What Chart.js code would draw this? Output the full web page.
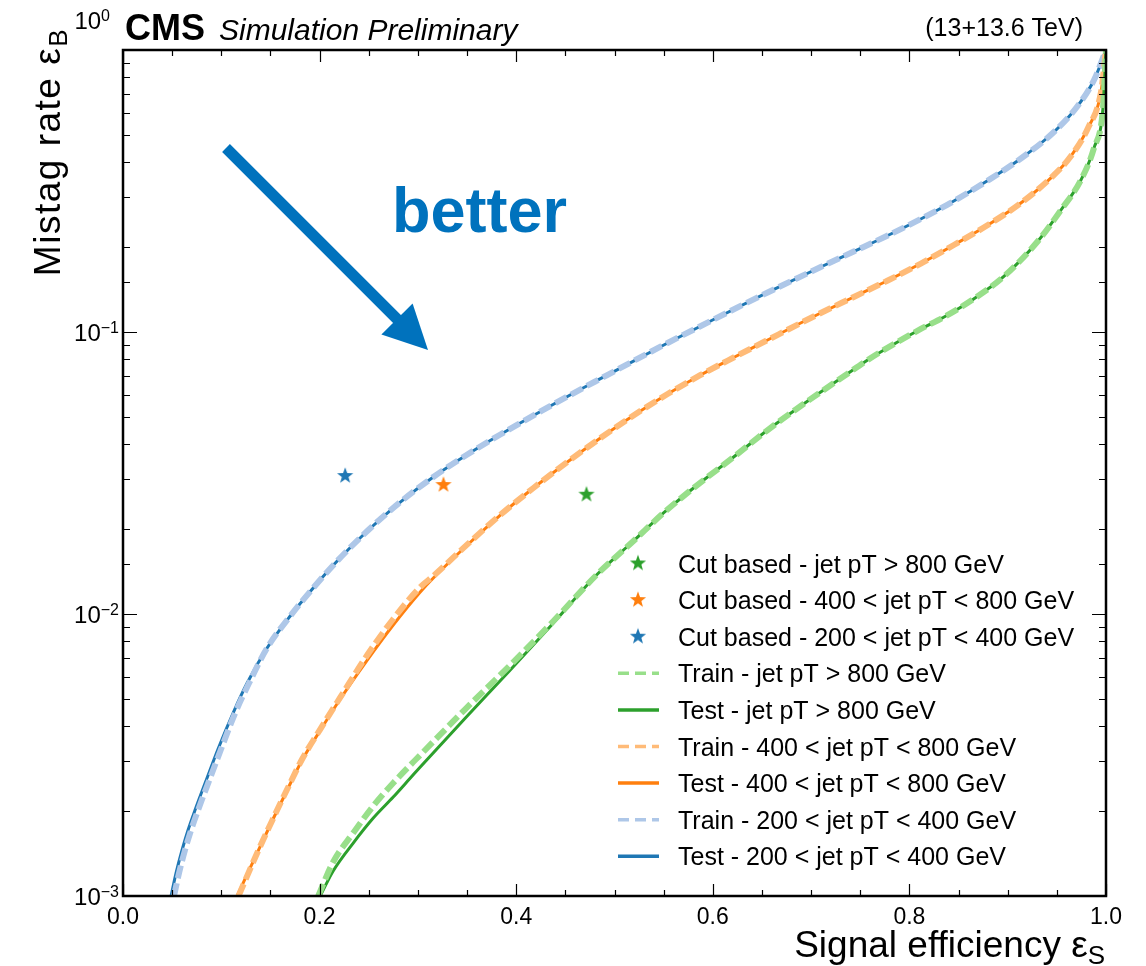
<!DOCTYPE html>
<html>
<head>
<meta charset="utf-8">
<script src="https://cdn.jsdelivr.net/npm/chart.js@4.4.1/dist/chart.umd.min.js"></script>
<style>
    html, body { margin: 0; padding: 0; background: #fff; }
    #wrap { width: 1146px; height: 966px; }
</style>
</head>
<body>
<div id="wrap"><canvas id="rocChart" width="1146" height="966"></canvas></div>
<script>
// ---- data ----
// jet pT > 800 GeV
const effTest800  = [0.2006, 0.2138, 0.2342, 0.2546, 0.2749, 0.2923, 0.3024, 0.3483, 0.3921, 0.4379, 0.4827, 0.5193, 0.5499, 0.5804, 0.6212, 0.6558, 0.6894, 0.7098, 0.7352, 0.7607, 0.7862, 0.8116, 0.8371, 0.8625, 0.8961, 0.9308, 0.9542, 0.9745, 0.9878, 0.9969, 1.0];
const rateTest800 = [0.0010, 0.001227, 0.001541, 0.001890, 0.002244, 0.002620, 0.002867, 0.004277, 0.006228, 0.009292, 0.01386, 0.01815, 0.02282, 0.02798, 0.03603, 0.04492, 0.05463, 0.06125, 0.07041, 0.08087, 0.09142, 0.1025, 0.1139, 0.1290, 0.1575, 0.2102, 0.2708, 0.3459, 0.4494, 0.6225, 1.0];
const effTrain800  = [0.1986, 0.2138, 0.2342, 0.2546, 0.2749, 0.2923, 0.3024, 0.3483, 0.3921, 0.4379, 0.4827, 0.5193, 0.5499, 0.5804, 0.6212, 0.6558, 0.6894, 0.7098, 0.7352, 0.7607, 0.7862, 0.8116, 0.8371, 0.8625, 0.8961, 0.9308, 0.9542, 0.9745, 0.9878, 0.9969, 1.0];
const rateTrain800 = [0.0010, 0.001320, 0.001673, 0.002085, 0.002516, 0.002914, 0.003162, 0.004602, 0.006490, 0.009445, 0.01386, 0.01815, 0.02282, 0.02798, 0.03603, 0.04492, 0.05463, 0.06125, 0.07041, 0.08087, 0.09142, 0.1025, 0.1139, 0.1290, 0.1575, 0.2102, 0.2708, 0.3459, 0.4494, 0.6225, 1.0];

// 400 < jet pT < 800 GeV
const effTest400  = [0.1161, 0.1365, 0.1517, 0.1670, 0.1823, 0.2006, 0.2210, 0.2485, 0.2749, 0.3024, 0.3157, 0.3503, 0.3839, 0.4175, 0.4521, 0.4857, 0.5193, 0.5540, 0.5876, 0.6212, 0.6558, 0.6894, 0.7098, 0.7434, 0.7780, 0.8116, 0.8452, 0.8798, 0.9134, 0.9470, 0.9644, 0.9817, 0.9949, 1.0];
const rateTest400 = [0.0010, 0.001421, 0.001845, 0.002376, 0.003036, 0.003863, 0.004995, 0.006868, 0.009141, 0.01197, 0.01342, 0.01757, 0.02244, 0.02798, 0.03460, 0.04208, 0.05057, 0.06026, 0.07041, 0.08121, 0.09367, 0.1076, 0.1168, 0.1331, 0.1523, 0.1749, 0.2035, 0.2395, 0.2867, 0.3602, 0.4207, 0.5290, 0.7098, 1.0];
const effTrain400  = [0.1175, 0.1365, 0.1517, 0.1670, 0.1823, 0.2006, 0.2210, 0.2485, 0.2749, 0.3024, 0.3157, 0.3503, 0.3839, 0.4175, 0.4521, 0.4857, 0.5193, 0.5540, 0.5876, 0.6212, 0.6558, 0.6894, 0.7098, 0.7434, 0.7780, 0.8116, 0.8452, 0.8798, 0.9134, 0.9470, 0.9644, 0.9817, 0.9949, 1.0];
const rateTrain400 = [0.0010, 0.001421, 0.001850, 0.002390, 0.003060, 0.003900, 0.005060, 0.007155, 0.009600, 0.01246, 0.01364, 0.01765, 0.02248, 0.02798, 0.03460, 0.04208, 0.05057, 0.06026, 0.07041, 0.08121, 0.09367, 0.1076, 0.1168, 0.1331, 0.1523, 0.1749, 0.2035, 0.2395, 0.2867, 0.3602, 0.4207, 0.5290, 0.7098, 1.0];

// 200 < jet pT < 400 GeV
const effTest200  = [0.0489, 0.0540, 0.0601, 0.0662, 0.0733, 0.0855, 0.0967, 0.1120, 0.1263, 0.1466, 0.1701, 0.1935, 0.2179, 0.2485, 0.2821, 0.3157, 0.3503, 0.3839, 0.4521, 0.4857, 0.5540, 0.5998, 0.6558, 0.7098, 0.7434, 0.7780, 0.8116, 0.8452, 0.8798, 0.9134, 0.9470, 0.9715, 0.9878, 1.0];
const rateTest200 = [0.0010, 0.001207, 0.001456, 0.001714, 0.002018, 0.002620, 0.003321, 0.004455, 0.005692, 0.007575, 0.009837, 0.01237, 0.01541, 0.01969, 0.02494, 0.03061, 0.03678, 0.04330, 0.05905, 0.06831, 0.09142, 0.1103, 0.1381, 0.1700, 0.1929, 0.2199, 0.2516, 0.2914, 0.3445, 0.4123, 0.5119, 0.6355, 0.7826, 1.0];
const effTrain200  = [0.0519, 0.0570, 0.0631, 0.0693, 0.0764, 0.0886, 0.0998, 0.1141, 0.1283, 0.1466, 0.1701, 0.1935, 0.2179, 0.2485, 0.2821, 0.3157, 0.3503, 0.3839, 0.4521, 0.4857, 0.5540, 0.5998, 0.6558, 0.7098, 0.7434, 0.7780, 0.8116, 0.8452, 0.8798, 0.9134, 0.9470, 0.9715, 0.9878, 1.0];
const rateTrain200 = [0.0010, 0.001207, 0.001456, 0.001714, 0.002018, 0.002620, 0.003321, 0.004455, 0.005692, 0.007575, 0.009837, 0.01237, 0.01541, 0.01969, 0.02494, 0.03061, 0.03678, 0.04330, 0.05905, 0.06831, 0.09142, 0.1103, 0.1381, 0.1700, 0.1929, 0.2199, 0.2516, 0.2914, 0.3445, 0.4123, 0.5119, 0.6355, 0.7826, 1.0];

// cut based working points: >800, 400-800, 200-400
const cutEff  = [0.4715, 0.326, 0.226];
const cutRate = [0.0267, 0.0289, 0.0311];

const seriesLabels = [
    'Cut based - jet pT > 800 GeV',
    'Cut based - 400 < jet pT < 800 GeV',
    'Cut based - 200 < jet pT < 400 GeV',
    'Train - jet pT > 800 GeV',
    'Test - jet pT > 800 GeV',
    'Train - 400 < jet pT < 800 GeV',
    'Test - 400 < jet pT < 800 GeV',
    'Train - 200 < jet pT < 400 GeV',
    'Test - 200 < jet pT < 400 GeV'
];

const yTickValues = [1, 0.1, 0.01, 0.001];
const yTickExps = ['0', '\u22121', '\u22122', '\u22123'];

const FONT = '"Liberation Sans", Arial, Helvetica, sans-serif';
const BLUE = '#1f77b4', ORANGE = '#ff7f0e', GREEN = '#2ca02c';
const LBLUE = '#aec7e8', LORANGE = '#ffbb78', LGREEN = '#98df8a';
const ARROW_BLUE = '#0072bd';

function pts(xs, ys) {
    return xs.map((x, i) => ({ x: x, y: ys[i] }));
}

// filled five point star used as marker
function makeStar(color) {
    const c = document.createElement('canvas');
    c.width = 18; c.height = 18;
    const g = c.getContext('2d');
    g.fillStyle = color;
    g.beginPath();
    for (let i = 0; i < 10; i++) {
        const r = i % 2 === 0 ? 8.5 : 3.5;
        const a = -Math.PI / 2 + i * Math.PI / 5;
        const px = 9 + r * Math.cos(a), py = 9.8 + r * Math.sin(a);
        if (i === 0) g.moveTo(px, py); else g.lineTo(px, py);
    }
    g.closePath();
    g.fill();
    return c;
}

function starSet(i, color) {
    return {
        label: seriesLabels[i],
        data: [{ x: cutEff[i], y: cutRate[i] }],
        showLine: false,
        pointStyle: makeStar(color),
        pointRadius: 9,
        isStar: true
    };
}

function lineSet(label, data, color, train) {
    return {
        label: label,
        data: data,
        showLine: true,
        fill: false,
        pointRadius: 0,
        pointHoverRadius: 0,
        borderColor: color,
        borderWidth: train ? 6 : 3,
        borderDash: train ? [13, 5] : [],
        borderCapStyle: 'butt',
        cubicInterpolationMode: 'monotone',
        isTrain: train
    };
}

// text with a lowered subscript, right edge at x
function subText(ctx, main, sub, x, y, size) {
    ctx.font = size + 'px ' + FONT;
    const wMain = ctx.measureText(main).width;
    ctx.font = Math.round(size * 0.7) + 'px ' + FONT;
    const wSub = ctx.measureText(sub).width;
    ctx.font = size + 'px ' + FONT;
    ctx.fillText(main, x - wMain - wSub, y);
    ctx.font = Math.round(size * 0.7) + 'px ' + FONT;
    ctx.fillText(sub, x - wSub, y + Math.round(size * 0.18));
}

// frame, inward ticks, y labels, titles, header, arrow and legend
const decorPlugin = {
    id: 'decor',
    afterDraw(chart) {
        const ctx = chart.ctx;
        const a = chart.chartArea;
        const xs = chart.scales.x, ys = chart.scales.y;
        ctx.save();

        // ticks pointing inward on all four sides
        ctx.strokeStyle = '#000';
        ctx.lineWidth = 1.2;
        ctx.beginPath();
        xs.ticks.forEach(t => {
            const v = Math.round(t.value * 100) / 100;
            const major = Math.abs(v * 5 - Math.round(v * 5)) < 1e-6;
            const len = major ? 12 : 6;
            const px = Math.round(xs.getPixelForValue(v)) + 0.5;
            ctx.moveTo(px, a.bottom); ctx.lineTo(px, a.bottom - len);
            ctx.moveTo(px, a.top); ctx.lineTo(px, a.top + len);
        });
        ys.ticks.forEach(t => {
            const lg = Math.log10(t.value);
            const major = Math.abs(lg - Math.round(lg)) < 1e-6;
            const len = major ? 14 : 7;
            const py = Math.round(ys.getPixelForValue(t.value)) + 0.5;
            ctx.moveTo(a.left, py); ctx.lineTo(a.left + len, py);
            ctx.moveTo(a.right, py); ctx.lineTo(a.right - len, py);
        });
        ctx.stroke();

        // frame
        ctx.lineWidth = 2.5;
        ctx.strokeRect(a.left, a.top, a.right - a.left, a.bottom - a.top);

        // y tick labels 10^k
        ctx.fillStyle = '#000';
        ctx.textAlign = 'left';
        ctx.textBaseline = 'alphabetic';
        yTickValues.forEach((v, i) => {
            const py = ys.getPixelForValue(v);
            const base = i === 0 ? py - 21 : py + 8.5;
            const right = i === 0 ? 110 : 119;
            ctx.font = '24px ' + FONT;
            const w10 = ctx.measureText('10').width;
            ctx.font = '16px ' + FONT;
            const wExp = ctx.measureText(yTickExps[i]).width;
            const x0 = right - w10 - wExp;
            ctx.font = '24px ' + FONT;
            ctx.fillText('10', x0, base);
            ctx.font = '16px ' + FONT;
            ctx.fillText(yTickExps[i], x0 + w10, base - 8);
        });

        // axis titles
        subText(ctx, 'Signal efficiency \u03b5', 'S', 1105, 957, 37);

        ctx.save();
        ctx.translate(60, 28);
        ctx.rotate(-Math.PI / 2);
        ctx.letterSpacing = '1.5px';
        subText(ctx, 'Mistag rate \u03b5', 'B', 0, 0, 37);
        ctx.letterSpacing = '0px';
        ctx.restore();

        // header
        ctx.font = 'bold 36px ' + FONT;
        ctx.fillText('CMS', 125, 40);
        ctx.font = 'italic 30px ' + FONT;
        ctx.fillText('Simulation Preliminary', 219, 40);
        ctx.font = '25px ' + FONT;
        ctx.textAlign = 'right';
        ctx.fillText('(13+13.6 TeV)', 1083, 36);
        ctx.textAlign = 'left';

        // "better" arrow
        ctx.strokeStyle = ARROW_BLUE;
        ctx.fillStyle = ARROW_BLUE;
        ctx.lineWidth = 11;
        ctx.lineCap = 'butt';
        ctx.beginPath();
        ctx.moveTo(226, 148);
        ctx.lineTo(399, 321);
        ctx.stroke();
        ctx.beginPath();
        ctx.moveTo(428, 350);
        ctx.lineTo(412.6, 303.4);
        ctx.lineTo(381.4, 334.6);
        ctx.closePath();
        ctx.fill();
        ctx.font = 'bold 63px ' + FONT;
        ctx.fillText('better', 392, 232);

        // legend
        const lx = 678, ly0 = 563.5, step = 36.6;
        chart.data.datasets.forEach((ds, i) => {
            const cy = ly0 + i * step;
            if (ds.isStar) {
                ctx.drawImage(ds.pointStyle, 638 - 9, cy - 10);
            } else {
                ctx.strokeStyle = ds.borderColor;
                ctx.lineWidth = 3.5;
                ctx.setLineDash(ds.isTrain ? [11, 6] : []);
                ctx.beginPath();
                ctx.moveTo(618, cy);
                ctx.lineTo(659, cy);
                ctx.stroke();
                ctx.setLineDash([]);
            }
            ctx.fillStyle = '#000';
            ctx.font = '25px ' + FONT;
            ctx.fillText(ds.label, lx, cy + 9);
        });

        ctx.restore();
    }
};

const ctx = document.getElementById('rocChart').getContext('2d');
const rocChart = new Chart(ctx, {
    type: 'line',
    data: {
        datasets: [
            starSet(0, GREEN),
            starSet(1, ORANGE),
            starSet(2, BLUE),
            lineSet(seriesLabels[3], pts(effTrain800, rateTrain800), LGREEN, true),
            lineSet(seriesLabels[4], pts(effTest800, rateTest800), GREEN, false),
            lineSet(seriesLabels[5], pts(effTrain400, rateTrain400), LORANGE, true),
            lineSet(seriesLabels[6], pts(effTest400, rateTest400), ORANGE, false),
            lineSet(seriesLabels[7], pts(effTrain200, rateTrain200), LBLUE, true),
            lineSet(seriesLabels[8], pts(effTest200, rateTest200), BLUE, false)
        ]
    },
    options: {
        responsive: false,
        animation: false,
        devicePixelRatio: 1,
        layout: {
            padding: { top: 50, right: 40, left: 0, bottom: 0 }
        },
        plugins: {
            legend: { display: false },
            tooltip: { enabled: false }
        },
        scales: {
            x: {
                type: 'linear',
                min: 0,
                max: 1,
                grid: { display: false, drawTicks: false },
                border: { display: false },
                ticks: {
                    stepSize: 0.05,
                    autoSkip: false,
                    maxRotation: 0,
                    padding: 8,
                    color: '#000',
                    font: { family: FONT, size: 23 },
                    callback: function(value) {
                        const v = Math.round(value * 100) / 100;
                        if (Math.abs(v * 5 - Math.round(v * 5)) < 1e-6) {
                            return v.toFixed(1);
                        }
                        return '';
                    }
                },
                afterFit: function(scale) {
                    scale.height = 70;
                }
            },
            y: {
                type: 'logarithmic',
                min: 0.001,
                max: 1,
                grid: { display: false, drawTicks: false },
                border: { display: false },
                ticks: { display: false },
                afterFit: function(scale) {
                    scale.width = 123;
                }
            }
        }
    },
    plugins: [decorPlugin]
});
</script>
</body>
</html>
